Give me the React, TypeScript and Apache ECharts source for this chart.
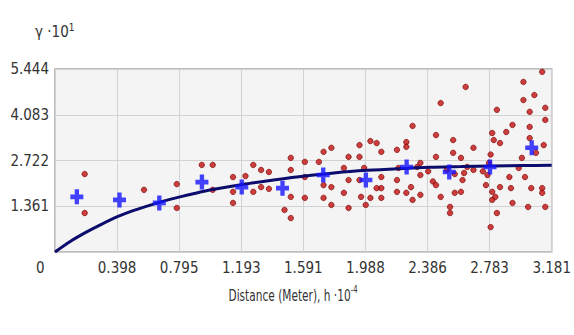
import React, { useEffect, useRef } from "react";
import * as echarts from "echarts";

const X_INTERVAL = 0.397625;
const Y_INTERVAL = 1.361;
const xTickLabels = ["", "0.398", "0.795", "1.193", "1.591", "1.988", "2.386", "2.783", "3.181"];
const yTickLabels = ["", "1.361", "2.722", "4.083", "5.444"];

// observed semivariance points (h·10^-4, γ·10^1)
const observedPoints: [number, number][] = [
  [0.19, 2.32], [0.19, 1.16], [0.57, 1.85], [0.78, 2.02], [0.78, 1.31],
  [0.94, 2.59], [1.01, 2.59], [1.01, 1.85], [1.14, 2.23], [1.14, 1.79], [1.14, 1.46],
  [1.22, 2.26], [1.27, 2.59], [1.27, 1.79], [1.32, 2.44], [1.32, 1.93],
  [1.37, 2.38], [1.37, 1.88], [1.47, 1.25], [1.51, 2.8], [1.51, 2.44], [1.51, 1.64], [1.51, 1.01],
  [1.6, 2.68], [1.6, 2.23], [1.6, 1.61], [1.69, 2.68], [1.72, 2.98], [1.77, 3.1],
  [1.72, 1.99], [1.77, 1.93], [1.72, 1.61], [1.77, 1.4], [1.85, 2.5], [1.85, 1.76],
  [1.88, 2.83], [1.88, 2.14], [1.88, 1.31], [1.95, 3.18], [1.95, 2.83], [1.95, 2.14],
  [1.96, 1.64], [1.99, 1.4], [2.02, 3.3], [2.06, 3.24], [2.09, 2.98], [2.09, 2.23],
  [2.09, 1.9], [2.09, 1.61], [2.06, 1.9], [2.02, 1.61], [1.98, 2.5],
  [2.19, 3.04], [2.19, 2.14], [2.19, 1.79], [2.2, 2.5], [2.25, 3.27], [2.25, 3.13], [2.29, 3.75],
  [2.28, 1.93], [2.29, 1.55], [2.34, 2.65], [2.34, 2.29], [2.34, 1.7], [2.25, 1.76],
  [2.32, 2.53], [2.39, 2.4], [2.42, 2.1],
  [2.44, 3.48], [2.44, 2.83], [2.44, 1.99], [2.47, 1.64], [2.47, 4.43], [2.51, 2.44],
  [2.53, 1.34], [2.53, 1.16], [2.55, 3.33], [2.55, 2.95], [2.56, 1.76], [2.56, 2.32], [2.6, 2.8],
  [2.6, 1.79], [2.62, 2.35], [2.63, 4.91], [2.68, 3.1], [2.68, 2.44], [2.61, 2.14], [2.64, 2.53],
  [2.74, 2.4], [2.76, 1.99], [2.77, 2.29], [2.78, 2.65], [2.79, 2.9], [2.8, 1.55], [2.82, 1.64],
  [2.79, 0.74], [2.8, 3.54], [2.81, 3.33], [2.8, 1.79], [2.83, 4.23], [2.83, 1.16],
  [2.85, 3.24], [2.85, 1.93], [2.91, 2.23], [2.92, 1.9], [2.93, 1.46], [2.89, 3.57],
  [2.93, 3.78], [2.97, 2.5], [2.99, 2.8], [3.0, 5.06], [3.0, 4.52], [3.07, 4.67], [3.04, 4.17], [3.04, 3.72],
  [3.01, 2.23], [3.03, 1.34], [3.08, 2.95], [3.12, 5.36], [3.14, 4.29], [3.14, 3.93], [3.13, 3.18],
  [3.12, 1.9], [3.12, 1.76], [3.14, 1.34], [3.05, 1.9], [3.04, 3.39],
];

// binned averages
const averagedPoints: [number, number][] = [
  [0.14, 1.64], [0.413, 1.55], [0.668, 1.46], [0.941, 2.08], [1.196, 1.93], [1.457, 1.9],
  [1.718, 2.29], [1.991, 2.14], [2.252, 2.53], [2.525, 2.38], [2.786, 2.53], [3.053, 3.1],
];

// fitted model curve
const modelCurve: [number, number][] = [
  [0.0, 0.0], [0.1, 0.32], [0.2, 0.59], [0.3, 0.83], [0.4, 1.05], [0.5, 1.23], [0.6, 1.38],
  [0.7, 1.52], [0.8, 1.64], [0.9, 1.75], [1.0, 1.85], [1.2, 2.01], [1.4, 2.14], [1.6, 2.26],
  [1.8, 2.36], [2.0, 2.43], [2.2, 2.48], [2.4, 2.52], [2.6, 2.54], [2.8, 2.56], [3.0, 2.57],
  [3.181, 2.58],
];

const FONT = "'Liberation Sans Narrow', 'DejaVu Sans Condensed', 'Liberation Sans', sans-serif";
const PLUS = "path://M4,0 H8 V4.5 H12 V8.5 H8 V13 H4 V8.5 H0 V4.5 H4 Z";

export default function App() {
  const ref = useRef<HTMLDivElement>(null);
  useEffect(() => {
    if (!ref.current) return;
    const chart = echarts.init(ref.current, undefined, { renderer: "svg" });
    chart.setOption({
      animation: false,
      backgroundColor: "#ffffff",
      grid: {
        left: 55, right: 20, top: 69, bottom: 83,
        show: true, backgroundColor: "#f4f4f4", borderColor: "#a8a8a8", borderWidth: 1.5,
      },
      xAxis: {
        type: "value", min: 0, max: 3.181, interval: X_INTERVAL,
        axisLine: { show: false }, axisTick: { show: false },
        splitLine: { show: true, lineStyle: { color: "#d2d2d2", width: 1 } },
        axisLabel: {
          color: "#333", fontFamily: FONT, fontSize: 15, margin: 8,
          formatter: (v: number) => xTickLabels[Math.round(v / X_INTERVAL)] ?? "",
        },
      },
      yAxis: {
        type: "value", min: 0, max: 5.444, interval: Y_INTERVAL,
        axisLine: { show: false }, axisTick: { show: false },
        splitLine: { show: true, lineStyle: { color: "#d2d2d2", width: 1 } },
        axisLabel: {
          color: "#333", fontFamily: FONT, fontSize: 15, margin: 6,
          formatter: (v: number) => yTickLabels[Math.round(v / Y_INTERVAL)] ?? "",
        },
      },
      graphic: [
        {
          type: "text", x: 35, y: 22,
          style: {
            text: "{a|γ ·10}{s|1}", fill: "#333",
            rich: {
              a: { fontFamily: FONT, fontSize: 15, lineHeight: 20, fill: "#333" },
              s: { fontFamily: FONT, fontSize: 10, lineHeight: 11, verticalAlign: "top", fill: "#333" },
            },
          },
        },
        { type: "text", left: 36, top: 260, style: { text: "0", fontFamily: FONT, fontSize: 15, fill: "#333" } },
        {
          type: "text", x: 293, y: 285, scaleX: 0.76,
          style: {
            text: "{a|Distance (Meter), h ·10}{s|-4}", align: "center", fill: "#333",
            rich: {
              a: { fontFamily: FONT, fontSize: 15.5, lineHeight: 21, fill: "#333" },
              s: { fontFamily: FONT, fontSize: 10, lineHeight: 11, verticalAlign: "top", fill: "#333" },
            },
          },
        },
      ],
      series: [
        {
          type: "scatter", data: observedPoints, symbol: "circle", symbolSize: 5.5, z: 2,
          itemStyle: { color: "#c01010", borderColor: "#7a0000", borderWidth: 0.8 },
        },
        {
          type: "line", data: modelCurve, smooth: 0.3, symbol: "none", z: 3,
          lineStyle: { color: "#0c0c6c", width: 3 },
        },
        {
          type: "scatter", data: averagedPoints, symbol: PLUS, symbolSize: [13, 15], z: 4,
          itemStyle: { color: "#1414ff" },
        },
      ],
    });
    return () => chart.dispose();
  }, []);
  return <div ref={ref} style={{ position: "fixed", left: 0, top: 0, width: 574, height: 335 }} />;
}
